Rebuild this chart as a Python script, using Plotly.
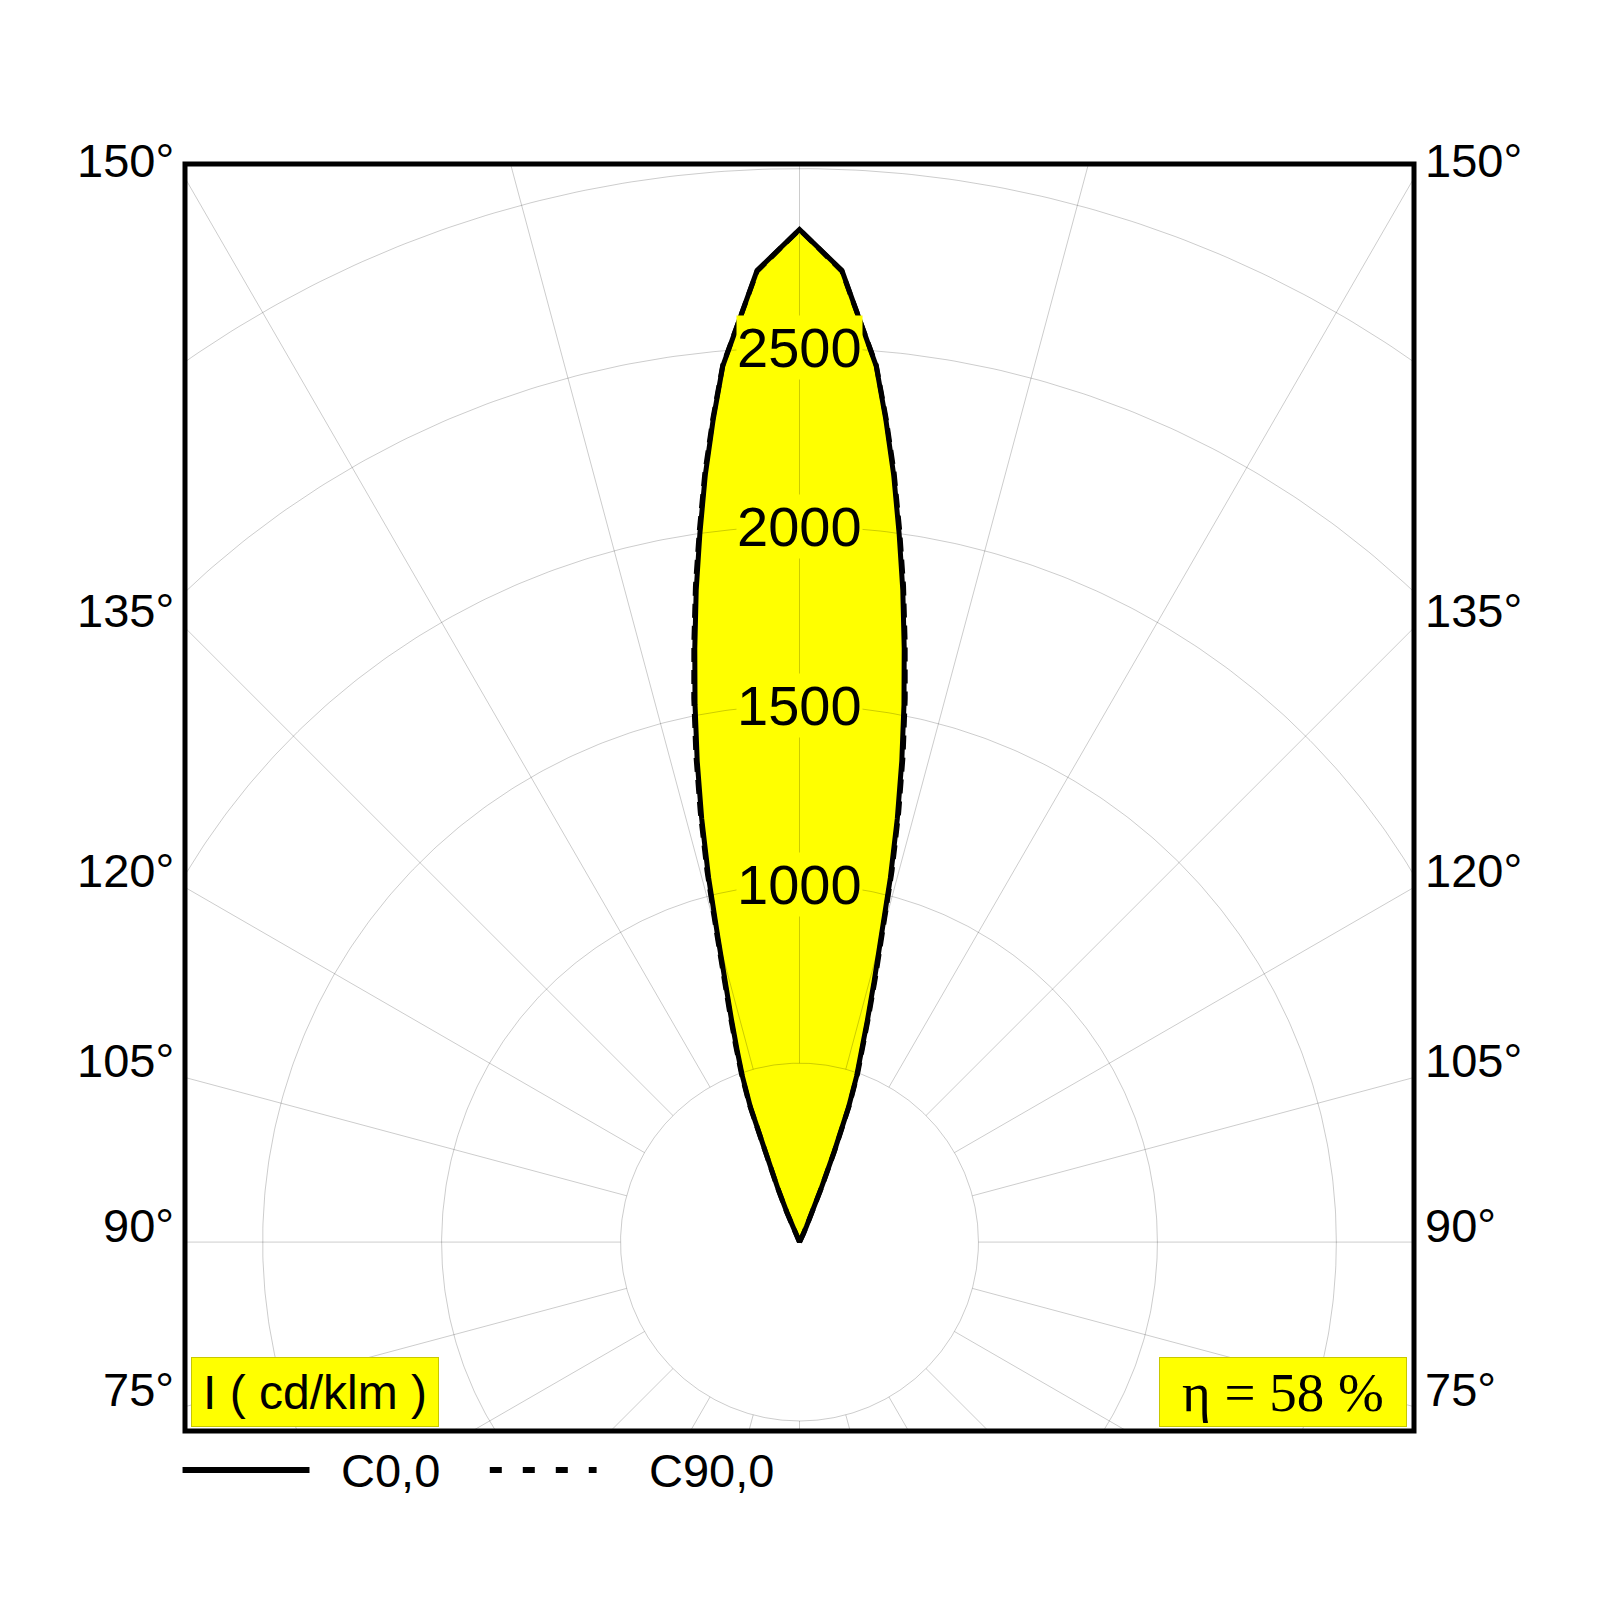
import numpy as np
import plotly.graph_objects as go

# Luminous intensity (cd/klm) vs gamma angle, 180 deg = beam axis (pointing up)
gamma = [150, 152, 153, 154, 155, 156, 157, 158, 159, 160, 161, 162, 163, 164,
         165, 166, 167, 168, 169, 170, 171, 172, 173, 174, 175, 177.5, 180]
c0 = [0, 2, 6, 12, 25, 48, 90, 160, 270, 400, 490, 565, 650, 755,
      880, 1050, 1215, 1375, 1530, 1685, 1845, 2000, 2160, 2310, 2458, 2718, 2830]
c90 = [0, 2, 6, 13, 26, 50, 93, 165, 278, 410, 500, 577, 663, 770,
       895, 1068, 1232, 1393, 1548, 1700, 1858, 2010, 2168, 2315, 2460, 2716, 2830]

rings = [500, 1000, 1500, 2000, 2500, 3000]
ring_labels = [1000, 1500, 2000, 2500]
spoke_angles = list(range(0, 360, 15))
side_angles = [75, 90, 105, 120, 135, 150]

X_HALF = 1717
Y_RANGE = [-528, 3013]
FONT = "Liberation Sans"


def to_xy(g, vals):
    # mirror the half plane so the curve is drawn on both sides of the axis
    g = np.radians(np.asarray(g, dtype=float))
    v = np.asarray(vals, dtype=float)
    xr, yr = v * np.sin(g), -v * np.cos(g)
    x = np.concatenate([xr, -xr[::-1]])
    y = np.concatenate([yr, yr[::-1]])
    return x, y


fig = go.Figure()

# yellow filled beam
x0, y0 = to_xy(gamma, c0)
fig.add_trace(go.Scatter(x=x0, y=y0, mode="lines", fill="toself",
                         fillcolor="#ffff00", line=dict(width=0),
                         hoverinfo="skip", showlegend=False))

# grid: rings and spokes
grid = dict(color="rgba(0,0,0,0.2)", width=1)
t = np.linspace(0, 2 * np.pi, 721)
for r in rings:
    fig.add_trace(go.Scatter(x=r * np.cos(t), y=r * np.sin(t), mode="lines",
                             line=grid, hoverinfo="skip", showlegend=False))
for a in spoke_angles:
    ar = np.radians(a)
    fig.add_trace(go.Scatter(x=[500 * np.sin(ar), 4000 * np.sin(ar)],
                             y=[-500 * np.cos(ar), -4000 * np.cos(ar)],
                             mode="lines", line=grid, hoverinfo="skip",
                             showlegend=False))

# curves
fig.add_trace(go.Scatter(x=x0, y=y0, mode="lines", name="C0,0",
                         line=dict(color="black", width=5), showlegend=False))
x9, y9 = to_xy(gamma, c90)
fig.add_trace(go.Scatter(x=x9, y=y9, mode="lines", name="C90,0",
                         line=dict(color="black", width=5, dash="14px,8px"),
                         showlegend=False))

ann = []
for r in ring_labels:
    ann.append(dict(x=0, y=r, text=str(r), showarrow=False, bgcolor="#ffff00",
                    borderpad=0, font=dict(family=FONT, size=56, color="black")))

for a in side_angles:
    ar = np.radians(a)
    yy = -X_HALF * np.cos(ar) / np.sin(ar)
    for xp, anchor, shift in [(0, "right", -9), (1, "left", 9)]:
        ann.append(dict(x=xp, xref="paper", y=yy, yref="y", text=f"{a}°",
                        showarrow=False, xanchor=anchor, yanchor="middle",
                        xshift=shift, yshift=17,
                        font=dict(family=FONT, size=47, color="black")))

ann.append(dict(x=0.0045, xref="paper", y=0.0584, yref="paper",
                text="I ( cd/klm )", showarrow=False, xanchor="left", yanchor="top",
                width=244, height=66, bgcolor="#ffff00", bordercolor="#c8c800",
                borderwidth=1, borderpad=1,
                font=dict(family=FONT, size=48, color="black")))
ann.append(dict(x=0.9947, xref="paper", y=0.0584, yref="paper",
                text="η = 58 %", showarrow=False, xanchor="right", yanchor="top",
                width=244, height=66, bgcolor="#ffff00", bordercolor="#c8c800",
                borderwidth=1, borderpad=1,
                font=dict(family="Liberation Serif", size=55, color="black")))

# legend
ann.append(dict(x=0.1257, xref="paper", y=-0.0308, yref="paper", text="C0,0",
                showarrow=False, xanchor="left", yanchor="middle",
                font=dict(family=FONT, size=47, color="black")))
ann.append(dict(x=0.3763, xref="paper", y=-0.0308, yref="paper", text="C90,0",
                showarrow=False, xanchor="left", yanchor="middle",
                font=dict(family=FONT, size=47, color="black")))

shapes = [
    dict(type="rect", xref="paper", yref="paper", x0=0, x1=1, y0=0, y1=1,
         line=dict(color="black", width=5), layer="above"),
    dict(type="line", xref="paper", yref="paper", x0=-0.002, x1=0.1013,
         y0=-0.0308, y1=-0.0308, line=dict(color="black", width=6)),
    dict(type="line", xref="paper", yref="paper", x0=0.248, x1=0.3349,
         y0=-0.0308, y1=-0.0308, line=dict(color="black", width=6, dash="12px,21px")),
]

fig.update_layout(
    width=1600, height=1600,
    margin=dict(l=177, r=194, t=156, b=177),
    paper_bgcolor="white", plot_bgcolor="white",
    xaxis=dict(range=[-X_HALF, X_HALF], visible=False),
    yaxis=dict(range=Y_RANGE, visible=False),
    annotations=ann, shapes=shapes,
    showlegend=False,
)

fig.write_html("out.html")
